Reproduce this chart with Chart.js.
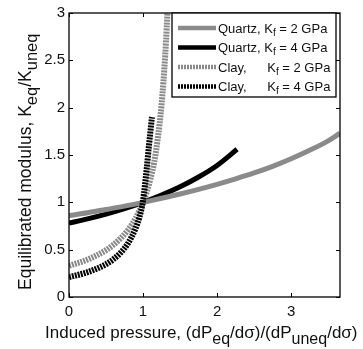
<!DOCTYPE html>
<html>
<head>
<meta charset="utf-8">
<script src="https://cdn.jsdelivr.net/npm/chart.js@4.4.1/dist/chart.umd.min.js"></script>
<style>
  html, body { margin: 0; padding: 0; background: #fff; }
  #wrap { width: 363px; height: 349px; position: relative; }
</style>
</head>
<body>
<div id="wrap"><canvas id="chart"></canvas></div>
<script>
// Equilibrated / unequilibrated modulus vs induced pressure ratio
const quartzKf2X = [0, 0.25, 0.5, 0.75, 1, 1.25, 1.5, 1.75, 2, 2.25, 2.5, 2.75, 3, 3.25, 3.5, 3.66];
const quartzKf2Y = [0.86, 0.89, 0.925, 0.96, 1.0, 1.043, 1.088, 1.137, 1.19, 1.248, 1.31, 1.38, 1.46, 1.55, 1.65, 1.73];

const quartzKf4X = [0, 0.25, 0.5, 0.75, 1, 1.25, 1.5, 1.75, 2, 2.27];
const quartzKf4Y = [0.78, 0.825, 0.876, 0.934, 1.0, 1.076, 1.164, 1.268, 1.39, 1.56];

const clayKf2X = [0, 0.25, 0.5, 0.6, 0.7, 0.8, 0.9, 1, 1.05, 1.1, 1.15, 1.2, 1.25, 1.3, 1.32, 1.34];
const clayKf2Y = [0.33, 0.395, 0.495, 0.552, 0.622, 0.711, 0.831, 1.0, 1.11, 1.25, 1.42, 1.68, 2.03, 2.56, 2.85, 3.2];

const clayKf4X = [0, 0.25, 0.5, 0.6, 0.7, 0.8, 0.9, 0.95, 1, 1.05, 1.08, 1.1, 1.12];
const clayKf4Y = [0.21, 0.262, 0.347, 0.399, 0.47, 0.571, 0.727, 0.84, 1.02, 1.36, 1.6, 1.75, 1.9];

const xTickValues = [0, 1, 2, 3];
const xTickLabels = ['0', '1', '2', '3'];
const yTickValues = [0, 0.5, 1, 1.5, 2, 2.5, 3];
const yTickLabels = ['0', '0.5', '1', '1.5', '2', '2.5', '3'];

const seriesLabels = ['Quartz,', 'Quartz,', 'Clay,', 'Clay,'];
const seriesKf = ['2', '4', '2', '4'];

const GRAY = '#8a8a8a';
const BLACK = '#000000';
const FONT = '"Liberation Sans", Arial, Helvetica, sans-serif';

const toPoints = (xs, ys) => xs.map((x, i) => ({ x, y: ys[i] }));

const datasets = [
  { data: toPoints(quartzKf2X, quartzKf2Y), borderColor: GRAY, borderWidth: 5, order: 2 },
  { data: toPoints(quartzKf4X, quartzKf4Y), borderColor: BLACK, borderWidth: 5, order: 3 },
  { data: toPoints(clayKf2X, clayKf2Y), borderColor: GRAY, borderWidth: 6, borderDash: [2, 1], order: 1 },
  { data: toPoints(clayKf4X, clayKf4Y), borderColor: BLACK, borderWidth: 6, borderDash: [2, 1], order: 0 }
].map(d => Object.assign({
  showLine: true,
  pointRadius: 0,
  pointHoverRadius: 0,
  cubicInterpolationMode: 'monotone',
  borderCapStyle: 'butt',
  clip: 0,
  fill: false
}, d));

// draws text runs, each run {t, sub}
function drawRuns(ctx, runs, x, y, size, subSize, subShift) {
  let cx = x;
  runs.forEach(r => {
    ctx.font = (r.sub ? subSize : size) + 'px ' + FONT;
    ctx.fillText(r.t, cx, y + (r.sub ? subShift : 0));
    cx += ctx.measureText(r.t).width;
  });
  return cx - x;
}
function runsWidth(ctx, runs, size, subSize) {
  let w = 0;
  runs.forEach(r => {
    ctx.font = (r.sub ? subSize : size) + 'px ' + FONT;
    w += ctx.measureText(r.t).width;
  });
  return w;
}

const decorPlugin = {
  id: 'decor',
  afterDatasetsDraw(chart) {
    const ctx = chart.ctx;
    const { left, right, top, bottom } = chart.chartArea;
    const xs = chart.scales.x, ys = chart.scales.y;
    ctx.save();

    // frame and inward ticks
    ctx.strokeStyle = '#000';
    ctx.lineWidth = 1.3;
    ctx.strokeRect(left, top, right - left, bottom - top);
    ctx.lineWidth = 1;
    ctx.beginPath();
    xTickValues.forEach(v => {
      const px = Math.round(xs.getPixelForValue(v)) + 0.5;
      ctx.moveTo(px, bottom); ctx.lineTo(px, bottom - 4);
      ctx.moveTo(px, top); ctx.lineTo(px, top + 4);
    });
    yTickValues.forEach(v => {
      const py = Math.round(ys.getPixelForValue(v)) + 0.5;
      ctx.moveTo(left, py); ctx.lineTo(left + 4, py);
      ctx.moveTo(right, py); ctx.lineTo(right - 4, py);
    });
    ctx.stroke();

    // legend
    const lx = 172, ly = 13, lw = 164, lh = 84;
    ctx.fillStyle = '#fff';
    ctx.fillRect(lx, ly, lw, lh);
    ctx.lineWidth = 1.3;
    ctx.strokeRect(lx, ly, lw, lh);
    const rowY = [28, 47.5, 67, 86.5];
    ctx.font = '13px ' + FONT;
    const kx = 218 + ctx.measureText('Quartz, ').width;
    datasets.forEach((d, i) => {
      const y = rowY[i];
      ctx.strokeStyle = d.borderColor;
      ctx.lineWidth = 4.5;
      ctx.setLineDash(d.borderDash || []);
      ctx.beginPath();
      ctx.moveTo(178, y); ctx.lineTo(216, y);
      ctx.stroke();
      ctx.setLineDash([]);
      ctx.fillStyle = '#111';
      ctx.textBaseline = 'alphabetic';
      ctx.textAlign = 'left';
      ctx.font = '13px ' + FONT;
      ctx.fillText(seriesLabels[i], 218, y + 4.5);
      const k = i < 2 ? kx : kx + 3;
      drawRuns(ctx, [{ t: 'K' }, { t: 'f', sub: true }, { t: ' = ' + seriesKf[i] + ' GPa' }], k, y + 4.5, 13, 10, 3);
    });

    // axis titles
    ctx.fillStyle = '#111';
    const xTitle = [
      { t: 'Induced pressure, (dP' }, { t: 'eq', sub: true }, { t: '/d\u03c3)/(dP' },
      { t: 'uneq', sub: true }, { t: '/d\u03c3)' }
    ];
    drawRuns(ctx, xTitle, 45, 337.5, 17, 16, 6);

    const yTitle = [
      { t: 'Equilibrated modulus, K' }, { t: 'eq', sub: true }, { t: '/K' }, { t: 'uneq', sub: true }
    ];
    const yw = runsWidth(ctx, yTitle, 17.5, 16.5);
    ctx.translate(31, 290);
    ctx.scale(1, 1);
    ctx.rotate(-Math.PI / 2);
    drawRuns(ctx, yTitle, 0, 0, 17.5, 16.5, 6);

    ctx.restore();
  }
};

new Chart(document.getElementById('chart'), {
  type: 'scatter',
  data: { datasets },
  options: {
    responsive: true,
    maintainAspectRatio: false,
    animation: false,
    events: [],
    layout: { padding: { top: 9, right: 23, left: 0, bottom: 0 } },
    plugins: { legend: { display: false }, tooltip: { enabled: false } },
    scales: {
      x: {
        type: 'linear',
        min: 0,
        max: 3.66,
        afterFit: s => { s.height = 52; },
        afterBuildTicks: s => { s.ticks = xTickValues.map(v => ({ value: v })); },
        grid: { display: false, drawTicks: false },
        border: { display: false },
        ticks: {
          padding: 6, color: '#111', font: { family: FONT, size: 15 }, maxRotation: 0,
          callback: (v, i) => xTickLabels[i]
        }
      },
      y: {
        type: 'linear',
        min: 0,
        max: 3,
        afterFit: s => { s.width = 69; },
        afterBuildTicks: s => { s.ticks = yTickValues.map(v => ({ value: v })); },
        grid: { display: false, drawTicks: false },
        border: { display: false },
        ticks: {
          padding: 4, color: '#111', font: { family: FONT, size: 15 },
          callback: (v, i) => yTickLabels[i]
        }
      }
    }
  },
  plugins: [decorPlugin]
});
</script>
</body>
</html>
